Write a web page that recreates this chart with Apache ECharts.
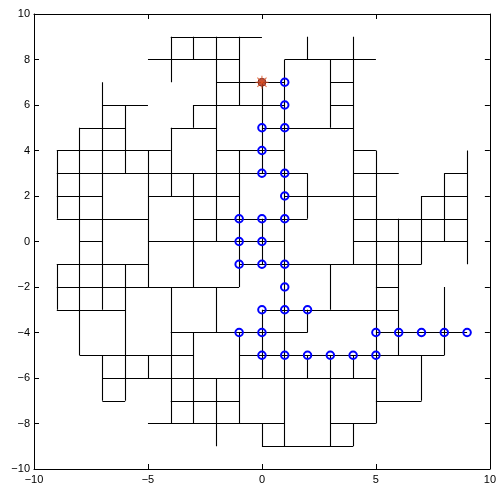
<!DOCTYPE html>
<html>
<head>
<meta charset="utf-8">
<script src="https://cdn.jsdelivr.net/npm/echarts@6/dist/echarts.min.js"></script>
<style>html,body{margin:0;padding:0;background:#fff}#c{width:499px;height:489px}</style>
</head>
<body>
<div id="c"></div>
<script>
// Horizontal segments: [y, x1, x2]
const hSegs = [
  [9, -4, 0],
  [8, -5, -1], [8, 1, 5],
  [7, -2, 1], [7, 3, 4],
  [6, -7, -5], [6, -3, 1], [6, 3, 4],
  [5, -8, -6], [5, -4, -2], [5, 0, 4],
  [4, -9, -4], [4, -2, 1], [4, 4, 5],
  [3, -9, 2], [3, 4, 6], [3, 8, 9],
  [2, -9, -7], [2, -5, -1], [2, 1, 5], [2, 7, 9],
  [1, -9, -5], [1, -3, 2], [1, 4, 9],
  [0, -8, -7], [0, -5, 1], [0, 4, 9],
  [-1, -9, -5], [-1, -1, 7],
  [-2, -9, -1], [-2, 5, 6],
  [-3, -9, -6], [-3, 0, 6],
  [-4, -4, 2], [-4, 5, 9],
  [-5, -8, -3], [-5, -1, 8],
  [-6, -7, 5],
  [-7, -7, -6], [-7, -4, -1], [-7, 5, 7],
  [-8, -5, 1], [-8, 3, 5],
  [-9, 0, 4]
];
// Vertical segments: [x, y1, y2]
const vSegs = [
  [-9, 4, 1], [-9, -1, -3],
  [-8, 5, -5],
  [-7, 7, -3], [-7, -5, -7],
  [-6, 6, 3], [-6, -1, -7],
  [-5, 4, -2], [-5, -5, -6],
  [-4, 9, 7], [-4, 5, 2], [-4, -2, -8],
  [-3, 9, 8], [-3, 6, 5], [-3, 3, -2], [-3, -4, -8],
  [-2, 9, 0], [-2, -2, -4], [-2, -6, -9],
  [-1, 9, 6], [-1, 4, -2], [-1, -4, -8],
  [0, 7, 3], [0, 1, -1], [0, -3, -6], [0, -8, -9],
  [1, 8, -9],
  [2, 9, 8], [2, 3, 1], [2, -3, -4], [2, -5, -6],
  [3, 8, 5], [3, -1, -3], [3, -5, -9],
  [4, 9, -1], [4, -5, -6], [4, -8, -9],
  [5, 4, -8],
  [6, 1, -5],
  [7, 2, -1], [7, -5, -7],
  [8, 3, 0], [8, -2, -5],
  [9, 4, -1]
];
// Path nodes (blue circles)
const pathX = [1, 1, 0, 1, 0, 0, 1, 1, -1, 0, 1, -1, 0, -1, 0, 1, 1, 0, 1, 2, -1, 0, 0, 1, 2, 3, 4, 5, 5, 6, 7, 8, 9];
const pathY = [7, 6, 5, 5, 4, 3, 3, 2, 1, 1, 1, 0, 0, -1, -1, -1, -2, -3, -3, -3, -4, -4, -5, -5, -5, -5, -5, -5, -4, -4, -4, -4, -4];
// Start node
const startX = [0];
const startY = [7];
// Axis ticks
const xTicks = [-10, -5, 0, 5, 10];
const yTicks = [-10, -8, -6, -4, -2, 0, 2, 4, 6, 8, 10];

const segData = [];
hSegs.forEach(s => segData.push({coords: [[s[1], s[0]], [s[2], s[0]]]}));
vSegs.forEach(s => segData.push({coords: [[s[0], s[1]], [s[0], s[2]]]}));

const fmt = v => String(v).replace('-', '\u2212');
const lblFont = {fontFamily: 'Liberation Sans, Arial, sans-serif', fontSize: 11, color: '#000'};
const axisCommon = {
  type: 'value', min: -10, max: 10,
  axisLine: {show: true, onZero: false, lineStyle: {color: '#000', width: 1}},
  axisTick: {show: true, inside: true, length: 5, lineStyle: {color: '#000', width: 1}},
  splitLine: {show: false}
};
const starPath = 'path://M-0.8,-10 L0.8,-10 L0.8,10 L-0.8,10 Z M-10,-0.8 L10,-0.8 L10,0.8 L-10,0.8 Z';

const chart = echarts.init(document.getElementById('c'), null, {renderer: 'canvas'});
chart.setOption({
  animation: false,
  backgroundColor: '#fff',
  grid: {left: 34, right: 9, top: 14, bottom: 20, containLabel: false},
  xAxis: [
    Object.assign({}, axisCommon, {position: 'bottom', interval: 5,
      axisLabel: Object.assign({}, lblFont, {margin: 5, formatter: v => xTicks.includes(v) ? fmt(v) : ''})}),
    Object.assign({}, axisCommon, {position: 'top', interval: 5, axisLabel: {show: false}})
  ],
  yAxis: [
    Object.assign({}, axisCommon, {position: 'left', interval: 2,
      axisLabel: Object.assign({}, lblFont, {margin: 4, formatter: v => yTicks.includes(v) ? fmt(v) : ''})}),
    Object.assign({}, axisCommon, {position: 'right', interval: 2, axisLabel: {show: false}})
  ],
  series: [
    {
      type: 'lines', coordinateSystem: 'cartesian2d', xAxisIndex: 0, yAxisIndex: 0,
      silent: true, polyline: false,
      lineStyle: {color: '#000', width: 1.1, opacity: 1},
      data: segData, z: 2
    },
    {
      type: 'scatter', xAxisIndex: 0, yAxisIndex: 0, silent: true,
      symbol: 'circle', symbolSize: 7.5,
      itemStyle: {color: 'rgba(0,0,0,0)', borderColor: '#0000ff', borderWidth: 2, opacity: 1},
      data: pathX.map((x, i) => [x, pathY[i]]), z: 3
    },
    {
      type: 'scatter', xAxisIndex: 0, yAxisIndex: 0, silent: true,
      symbol: 'circle', symbolSize: 8,
      itemStyle: {color: '#9a2a1e', borderColor: '#6e1a12', borderWidth: 1},
      data: startX.map((x, i) => [x, startY[i]]), z: 4
    },
    {
      type: 'scatter', xAxisIndex: 0, yAxisIndex: 0, silent: true,
      symbol: starPath, symbolSize: 13, symbolKeepAspect: true,
      itemStyle: {color: '#e0501e'},
      data: startX.map((x, i) => [x, startY[i]]), z: 5
    },
    {
      type: 'scatter', xAxisIndex: 0, yAxisIndex: 0, silent: true,
      symbol: starPath, symbolSize: 13, symbolKeepAspect: true, symbolRotate: 45,
      itemStyle: {color: '#e0501e'},
      data: startX.map((x, i) => [x, startY[i]]), z: 5
    }
  ]
});
</script>
</body>
</html>
